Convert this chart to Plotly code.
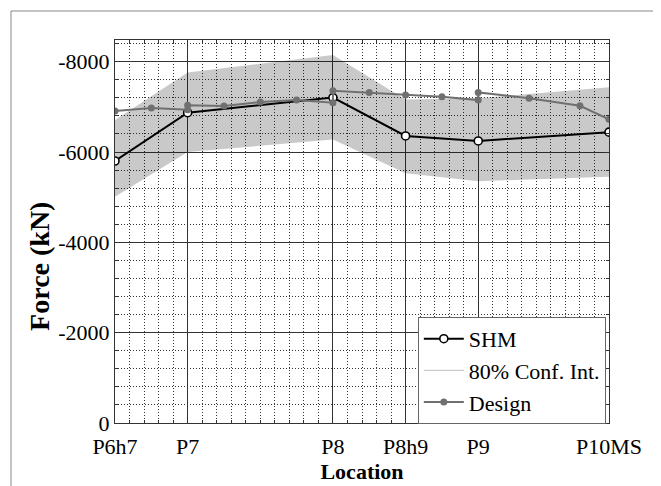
import plotly.graph_objects as go

# Locations (numeric positions along the bridge, and labels)
loc_pos = [0, 1, 3, 4, 5, 6.8]
loc_labels = ["P6h7", "P7", "P8", "P8h9", "P9", "P10MS"]

# SHM measured force (kN)
shm_force = [-5800, -6870, -7205, -6355, -6245, -6440]

# 80% confidence interval bounds (kN)
ci_upper = [-6710, -7760, -8150, -7160, -7190, -7435]
ci_lower = [-5010, -6000, -6275, -5530, -5355, -5450]

# Design force (kN)
design_pos = [0, 0.5, 1, 1, 1.5, 2, 2.5, 3, 3, 3.5, 4, 4.5, 5, 5, 5.7, 6.4, 6.8]
design_force = [-6910, -6975, -6935, -7035, -7020, -7105, -7150, -7090,
                -7355, -7315, -7265, -7225, -7150, -7320, -7190, -7025, -6725]

# y tick labels
y_tickvals = [0, -2000, -4000, -6000, -8000]
y_ticktext = ["0", "-2000", "-4000", "-6000", "-8000"]

FONT = "Liberation Serif"

fig = go.Figure()

# CI band
fig.add_trace(go.Scatter(x=loc_pos, y=ci_upper, mode="lines",
                         line=dict(width=0, color="rgba(0,0,0,0)"),
                         showlegend=False, hoverinfo="skip"))
fig.add_trace(go.Scatter(x=loc_pos, y=ci_lower, mode="lines",
                         line=dict(width=0, color="rgba(0,0,0,0)"),
                         fill="tonexty", fillcolor="rgba(0,0,0,0.21)",
                         showlegend=False, hoverinfo="skip"))

# SHM
fig.add_trace(go.Scatter(x=loc_pos, y=shm_force, mode="lines+markers", name="SHM",
                         line=dict(color="black", width=2),
                         marker=dict(symbol="circle", size=8, color="white",
                                     line=dict(color="black", width=1.6)),
                         legendrank=1, legendgroup="a"))
# CI legend entry
fig.add_trace(go.Scatter(x=[None], y=[None], mode="lines", name="80% Conf. Int.",
                         line=dict(color="#bdbdbd", width=1),
                         legendrank=2, legendgroup="b"))
# Design
fig.add_trace(go.Scatter(x=design_pos, y=design_force, mode="lines+markers", name="Design",
                         line=dict(color="#707070", width=2),
                         marker=dict(symbol="circle", size=7, color="#707070"),
                         legendrank=3, legendgroup="c"))

axis_common = dict(
    showline=True, mirror="allticks", linecolor="#333", linewidth=1,
    ticks="inside", ticklen=5, tickcolor="#333",
    showgrid=True, gridcolor="#333", gridwidth=1,
    zeroline=False, automargin=False,
    tickfont=dict(family=FONT, size=22, color="black"),
)

fig.update_xaxes(
    **axis_common,
    range=[0, 6.8],
    tickmode="array", tickvals=loc_pos, ticktext=loc_labels,
    ticklabelstandoff=4,
    minor=dict(dtick=0.2, tick0=0, showgrid=True, gridcolor="#333",
               griddash="1px,2px", gridwidth=1, ticks="inside", ticklen=3,
               tickcolor="#333"),
    title=dict(text="<b>Location</b>", font=dict(family=FONT, size=22, color="black"),
               standoff=4),
)
fig.update_yaxes(
    **axis_common,
    range=[0, -8480],
    tickmode="array", tickvals=y_tickvals, ticktext=y_ticktext,
    minor=dict(dtick=400, tick0=0, showgrid=True, gridcolor="#333",
               griddash="1px,2px", gridwidth=1, ticks="inside", ticklen=3,
               tickcolor="#333"),
)

fig.update_layout(
    width=653, height=478,
    margin=dict(l=107, r=52, t=32, b=63),
    paper_bgcolor="white", plot_bgcolor="white",
    font=dict(family=FONT, size=22, color="black"),
    legend=dict(x=0.613, y=0.277, xanchor="left", yanchor="top",
                bgcolor="white", bordercolor="#666", borderwidth=1,
                font=dict(family=FONT, size=22, color="black"),
                itemwidth=40,
                traceorder="normal", tracegroupgap=4),
    annotations=[dict(text="<b>Force (kN)</b>", textangle=-90,
                      xref="paper", yref="paper", x=-0.152, y=0.41,
                      xanchor="center", yanchor="middle", showarrow=False,
                      font=dict(family=FONT, size=28, color="black"))],
    shapes=[dict(type="rect", xref="paper", yref="paper",
                 x0=-0.2105, x1=1.101, y0=-0.25, y1=1.0757,
                 line=dict(color="#888", width=1), fillcolor="rgba(0,0,0,0)",
                 layer="below")],
)

fig.write_html("out.html")
